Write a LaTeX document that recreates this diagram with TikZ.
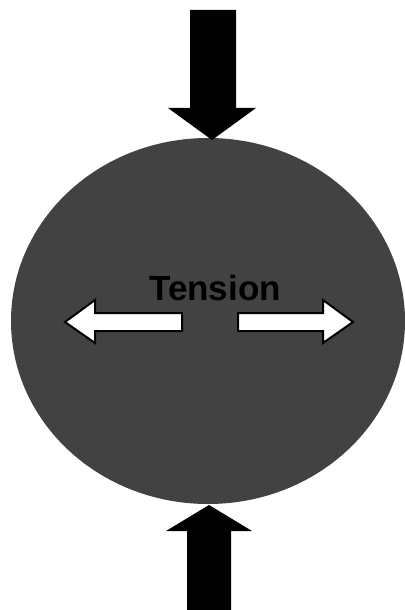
\documentclass[tikz,border=0pt]{standalone}
\usepackage{fontspec}
\setmainfont{Liberation Sans}
\usepackage{tikz}
\usepackage{xcolor}

\begin{document}
\begin{tikzpicture}[x=0.5pt,y=-0.5pt,line join=miter]
    % sizes (in pixels of the sketch)
    \def\ballx{208}
    \def\bally{321}
    \def\ballrx{197}
    \def\ballry{183}

    \useasboundingbox (0,0) rectangle (405,610);

    % the loaded body
    \fill[black!74] (\ballx,\bally) ellipse [x radius=\ballrx, y radius=\ballry];

    % compression from above
    \fill[black] (190,10) -- (236,10) -- (236,108) -- (256,108) -- (212,140)
                 -- (168,108) -- (190,108) -- cycle;

    % compression from below
    \fill[black] (187,610) -- (187,531) -- (166,531) -- (209,505) -- (252,531)
                 -- (231,531) -- (231,610) -- cycle;

    % tension arrows (white, outlined)
    \draw[fill=white,line width=1pt] (182,313) -- (95,313) -- (95,300) -- (65,322)
                 -- (95,343) -- (95,331) -- (182,331) -- cycle;
    \draw[fill=white,line width=1pt] (238,313) -- (323,313) -- (323,300) -- (353,322)
                 -- (323,343) -- (323,331) -- (238,331) -- cycle;

    % label
    \node[font=\bfseries\fontsize{17.5}{20}\selectfont,text=black,anchor=base]
        (tension) at (215,300) {Tension};
\end{tikzpicture}
\end{document}
